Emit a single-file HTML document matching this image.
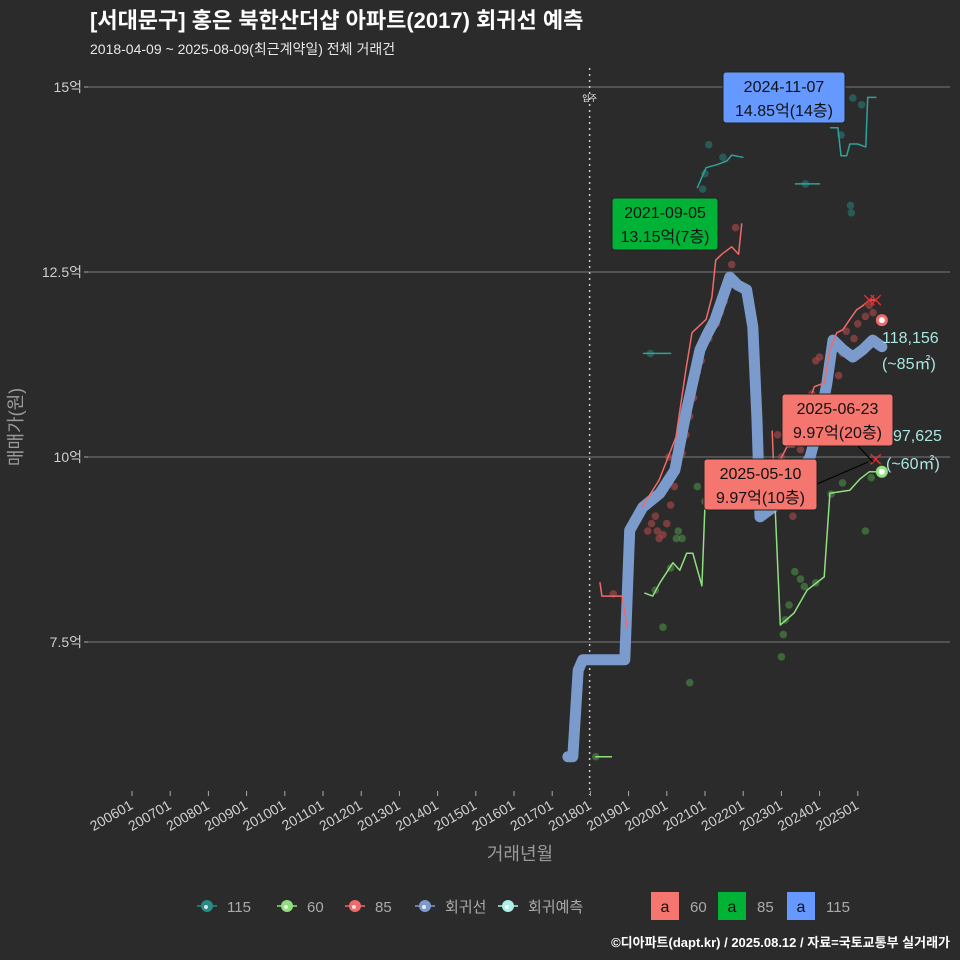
<!DOCTYPE html>
<html><head><meta charset="utf-8">
<style>
html,body{margin:0;padding:0;background:#2b2b2b;}
svg{display:block;font-family:"Liberation Sans","Noto Sans CJK KR",sans-serif;}
</style></head>
<body>
<svg id="chart" width="960" height="960" viewBox="0 0 960 960">
<rect width="960" height="960" fill="#2b2b2b"/>
<text x="90" y="28" fill="#ffffff" font-size="22" font-weight="bold">[서대문구] 홍은 북한산더샵 아파트(2017) 회귀선 예측</text>
<text x="90" y="54" fill="#e8e8e8" font-size="14">2018-04-09 ~ 2025-08-09(최근계약일) 전체 거래건</text>
<g id="grid"></g>
<g id="axes"></g>
<g id="series"></g>
<g id="annot"></g>
<text x="22" y="427" fill="#9a9a9a" font-size="18" transform="rotate(-90 22 427)" text-anchor="middle">매매가(원)</text>
<text x="520" y="860" fill="#9a9a9a" font-size="18" text-anchor="middle">거래년월</text>
<text x="950" y="947" fill="#ffffff" font-size="13" font-weight="bold" text-anchor="end">©디아파트(dapt.kr) / 2025.08.12 / 자료=국토교통부 실거래가</text>
<g id="legend"></g>
</svg>
<script>
// ---- data (decimal year, 억) ----
const yTicks = [7.5, 10, 12.5, 15];
const yTickLabels = ["7.5억", "10억", "12.5억", "15억"];
const xTickYears = [2006,2007,2008,2009,2010,2011,2012,2013,2014,2015,2016,2017,2018,2019,2020,2021,2022,2023,2024,2025];
const xTickLabels = ["200601","200701","200801","200901","201001","201101","201201","201301","201401","201501","201601","201701","201801","201901","202001","202101","202201","202301","202401","202501"];
const moveInYear = 2017.98;
const regYears = [2017.41,2017.54,2017.68,2017.80,2018.90,2019.03,2019.37,2019.82,2020.21,2020.52,2020.87,2021.05,2021.26,2021.44,2021.65,2021.86,2022.09,2022.25,2022.36,2022.44,2022.78,2023.23,2023.75,2024.01,2024.19,2024.35,2024.61,2024.87,2025.13,2025.39,2025.63];
const regValues = [5.95,5.95,7.12,7.26,7.26,9.01,9.32,9.51,9.82,10.64,11.45,11.65,11.85,12.12,12.43,12.32,12.26,11.76,10.5,9.19,9.32,9.55,10.0,10.5,11.0,11.58,11.45,11.35,11.45,11.58,11.49];
const s85Years = [2018.25,2018.30,2018.83,2018.96,2019.35,2019.80,2020.24,2020.50,2020.66,2021.03,2021.18,2021.28,2021.44,2021.70,2021.88,2021.96,2022.76,2022.80,2023.15,2023.34,2023.86,2024.12,2024.27,2024.45,2024.61,2024.79,2024.97,2025.12,2025.30,2025.47];
const s85Values = [8.30,8.12,8.12,7.70,9.32,9.69,10.27,11.18,11.68,11.86,12.16,12.66,12.74,12.84,12.74,13.15,10.35,9.8,10.14,10.14,10.95,11.0,11.45,11.68,11.72,11.86,11.99,12.04,12.12,12.12];
const s60Years = [2018.14,2018.55];
const s60Values = [5.95,5.95];
const s60bYears = [2019.43,2019.63,2019.82,2020.16,2020.34,2020.52,2020.68,2020.92,2021.00,2022.80,2022.97,2023.33,2023.67,2024.12,2024.27,2024.53,2024.79,2025.05,2025.30,2025.51,2025.63];
const s60bValues = [8.16,8.12,8.30,8.57,8.47,8.70,8.70,8.26,9.36,9.73,7.73,7.89,8.20,8.38,9.51,9.53,9.55,9.70,9.80,9.80,9.80];
const s115aYears = [2019.39,2020.10];
const s115aValues = [11.4,11.4];
const s115bYears = [2020.80,2021.03,2021.31,2021.57,2021.70,2021.99];
const s115bValues = [13.64,13.91,13.95,14.0,14.08,14.05];
const s115cYears = [2023.37,2024.00];
const s115cValues = [13.69,13.69];
const s115dYears = [2024.29,2024.48,2024.56,2024.71,2024.79,2024.99,2025.21,2025.26,2025.47];
const s115dValues = [14.45,14.45,14.07,14.07,14.23,14.23,14.19,14.86,14.86];
const pts115Years = [2021.10,2021.00,2020.94,2021.47,2023.63,2024.87,2025.10,2024.56,2024.81,2024.83,2019.57];
const pts115Values = [14.22,13.83,13.62,14.05,13.69,14.85,14.76,14.35,13.40,13.30,11.4];
const pts85Years = [2018.6,2018.9,2019.5,2019.7,2019.8,2019.9,2020.0,2020.1,2020.2,2020.3,2020.4,2020.5,2020.6,2020.7,2020.8,2020.9,2021.0,2021.1,2021.2,2021.3,2021.4,2021.5,2021.6,2021.7,2021.8,2019.6,2019.75,2020.05,2023.3,2023.5,2023.6,2023.8,2023.9,2024.0,2024.3,2024.5,2024.6,2024.7,2024.9,2025.0,2025.2,2025.3,2025.4,2022.9,2023.0];
const pts85Values = [8.15,7.7,9.0,9.2,8.9,8.95,9.1,9.35,9.6,9.9,10.05,10.3,10.55,10.8,11.15,11.3,11.55,11.6,11.75,11.8,11.95,12.1,12.3,12.6,13.1,9.1,9.0,10.0,9.2,10.1,9.9,10.85,11.3,11.35,10.6,11.1,11.4,11.7,11.6,11.8,11.9,12.05,11.95,10.3,10.0];
const pts60Years = [2018.14,2019.9,2020.1,2020.25,2020.3,2020.6,2020.8,2021.0,2023.0,2023.05,2023.1,2023.2,2023.35,2023.5,2023.6,2023.9,2024.3,2024.6,2025.2,2025.35,2019.7,2020.4];
const pts60Values = [5.95,7.7,8.5,8.9,9.0,6.95,9.6,9.4,7.3,7.6,7.8,8.0,8.45,8.35,8.25,8.3,9.5,9.65,9.0,9.72,8.2,8.9];

// ---- scales ----
const X0 = 132, XPY = 38.2, Y0 = 87, YPU = 74;
function xs(yr){ return X0 + (yr - 2006) * XPY; }
function ys(v){ return Y0 + (15 - v) * YPU; }
const NS = "http://www.w3.org/2000/svg";
function mk(tag, attrs, parent){ const e = document.createElementNS(NS, tag); for (const k in attrs) e.setAttribute(k, attrs[k]); parent.appendChild(e); return e; }

const grid = document.getElementById('grid'), axes = document.getElementById('axes'), ser = document.getElementById('series'), ann = document.getElementById('annot'), leg = document.getElementById('legend');

yTicks.forEach((v,i)=>{
  const l = mk('line',{x1:88,x2:950,y1:ys(v),y2:ys(v),stroke:'#6a6a6a','stroke-width':1.2},grid);
  
  
  const t = mk('line',{x1:84,x2:88,y1:ys(v),y2:ys(v),stroke:'#aaa'},axes);
  
  
  const tx = mk('text',{x:82,y:ys(v)+5,fill:'#cfcfcf','font-size':14,'text-anchor':'end'},axes);
  tx.textContent = yTickLabels[i];
  
  
});
xTickYears.forEach((yr,i)=>{
  const x = xs(yr);
  const t = mk('line',{x1:x,x2:x,y1:791,y2:796,stroke:'#aaa'},axes);
  
  
  const tx = mk('text',{x:x+2,y:808,fill:'#cfcfcf','font-size':14,'text-anchor':'end',transform:`rotate(-30 ${x+2} 808)`},axes);
  tx.textContent = xTickLabels[i];
  
  
});
const mv = mk('line',{x1:xs(moveInYear),x2:xs(moveInYear),y1:68,y2:795,stroke:'#cccccc','stroke-dasharray':'2,4','stroke-width':1.5},grid);


const mvt = mk('text',{x:xs(moveInYear),y:101,fill:'#fff','font-size':8,'text-anchor':'middle'},grid);
mvt.textContent = '입주';



function pts(ys_, vs, color, name){
  ys_.forEach((yr,i)=>{
    const c = mk('circle',{cx:xs(yr),cy:ys(vs[i]),r:3.8,fill:color,'fill-opacity':0.6},ser);
    
    
  });
}
function line(ys_, vs, color, w, name){
  const d = ys_.map((yr,i)=>(i?'L':'M')+xs(yr).toFixed(1)+','+ys(vs[i]).toFixed(1)).join(' ');
  const p = mk('path',{d:d,fill:'none',stroke:color,'stroke-width':w,'stroke-linejoin':'round','stroke-linecap':'round'},ser);
  
  
}
pts(pts115Years, pts115Values, '#2a7a75', 'point-115');
pts(pts85Years, pts85Values, '#b04a4a', 'point-85');
pts(pts60Years, pts60Values, '#4f8f48', 'point-60');
line(regYears, regValues, '#7b9bcc', 11, 'regression-line');
line(s85Years.slice(0,4), s85Values.slice(0,4), '#f06a6a', 1.5, 'line-85');
line(s85Years.slice(4,16), s85Values.slice(4,16), '#f06a6a', 1.5, 'line-85');
line(s85Years.slice(16), s85Values.slice(16), '#f06a6a', 1.5, 'line-85');
line(s60Years, s60Values, '#90e080', 1.5, 'line-60');
line(s60bYears, s60bValues, '#90e080', 1.5, 'line-60');
line(s115aYears, s115aValues, '#2fa39b', 1.5, 'line-115');
line(s115bYears, s115bValues, '#2fa39b', 1.5, 'line-115');
line(s115cYears, s115cValues, '#2fa39b', 1.5, 'line-115');
line(s115dYears, s115dValues, '#2fa39b', 1.5, 'line-115');

// end markers
[[2025.63,11.85,'#f06a6a','end-marker-85'],[2025.63,9.8,'#90e080','end-marker-60']].forEach(m=>{
  const c = mk('circle',{cx:xs(m[0]),cy:ys(m[1]),r:6,fill:m[2]},ser);
  
  
  const c2 = mk('circle',{cx:xs(m[0]),cy:ys(m[1]),r:3,fill:'#fff'},ser);
  
  
});
// x markers recent
[[2025.30,12.12],[2025.47,12.12],[2025.47,9.97]].forEach(m=>{
  const x=xs(m[0]),y=ys(m[1]);
  const p = mk('path',{d:`M${x-5},${y-5}L${x+5},${y+5}M${x-5},${y+5}L${x+5},${y-5}`,stroke:'#e03030','stroke-width':1.5},ser);
  
  
});

// annotations
function box(x,y,w,h,fill,l1,l2,name){
  const g = mk('g',{},ann);
  
  
  mk('rect',{x:x,y:y,width:w,height:h,rx:3,fill:fill,stroke:'#222','stroke-width':1},g);
  const t1 = mk('text',{x:x+w/2,y:y+20,'font-size':16,'text-anchor':'middle',fill:'#111'},g); t1.textContent=l1;
  const t2 = mk('text',{x:x+w/2,y:y+44,'font-size':16,'text-anchor':'middle',fill:'#111'},g); t2.textContent=l2;
}
const cl = mk('path',{d:'M858,446L873,462M817,484L868,462',stroke:'#000','stroke-width':1.2},ann);


box(612,198,106,52,'#00b336','2021-09-05','13.15억(7층)','max-85-label');
box(723,72,122,51,'#6699ff','2024-11-07','14.85억(14층)','max-115-label');
box(782,394,111,52,'#f4766e','2025-06-23','9.97억(20층)','recent-60-label-1');
box(704,459,113,51,'#f4766e','2025-05-10','9.97억(10층)','recent-60-label-2');
[['118,156',882,343,'end-label-85'],['(~85㎡)',882,369,'end-label-85-area'],['97,625',893,441,'end-label-60'],['(~60㎡)',886,469,'end-label-60-area']].forEach(a=>{
  const t = mk('text',{x:a[1],y:a[2],fill:'#a8e6df','font-size':16},ann);
  t.textContent = a[0];
  
  
});

// legend
[[207,'#2a8a85','115'],[287,'#90e080','60'],[355,'#f06a6a','85'],[425,'#7b9bcc','회귀선'],[508,'#aef0e8','회귀예측']].forEach(l=>{
  const g = mk('g',{},leg);
  
  
  mk('line',{x1:l[0]-10,x2:l[0]+10,y1:906,y2:906,stroke:l[1],'stroke-width':1.5},g);
  mk('circle',{cx:l[0],cy:906,r:6,fill:l[1]},g);
  mk('circle',{cx:l[0]-1,cy:907,r:2,fill:'#fff','fill-opacity':0.8},g);
  const t = mk('text',{x:l[0]+20,y:912,fill:'#aaa','font-size':15},g); t.textContent = l[2];
});
[[651,'#f4766e','60'],[718,'#00b336','85'],[787,'#6699ff','115']].forEach(l=>{
  const g = mk('g',{},leg);
  
  
  mk('rect',{x:l[0],y:892,width:28,height:28,fill:l[1]},g);
  const a = mk('text',{x:l[0]+14,y:912,fill:'#111','font-size':16,'text-anchor':'middle'},g); a.textContent='a';
  const t = mk('text',{x:l[0]+39,y:912,fill:'#aaa','font-size':15},g); t.textContent = l[2];
});
</script>
</body></html>
